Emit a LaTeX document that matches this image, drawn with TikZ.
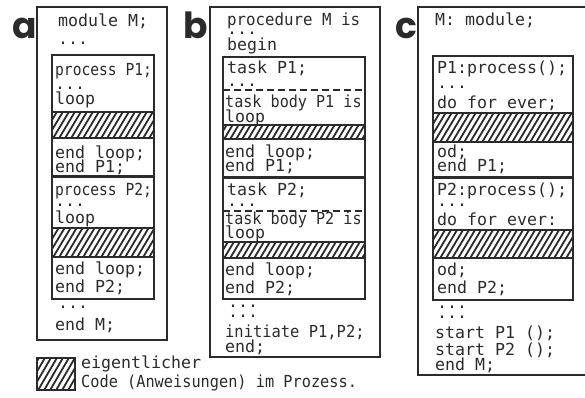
\documentclass[tikz,border=0pt]{standalone}
\usepackage{fontspec}
\newfontfamily\codefont{DejaVu Sans Mono}
\newfontfamily\labelfont{Poppins}
\definecolor{ink}{HTML}{2B2B2B}
\tikzset{
  code/.style={anchor=base west, inner sep=0pt, text=ink,
    font=\codefont\fontsize{16.6}{18}\selectfont},
  panel/.style={anchor=base west, inner sep=0pt, text=ink,
    font=\labelfont\bfseries\fontsize{36}{36}\selectfont},
  frame/.style={draw=ink, line width=1.6pt},
  sepline/.style={draw=ink, line width=1.4pt},
  thicksep/.style={draw=ink, line width=3pt},
  dashsep/.style={draw=ink, line width=1.3pt, dash pattern=on 7pt off 4pt},
  hatchline/.style={draw=ink, line width=1.8pt},
}
% one line of program text: [options]{name}{x,y}{text}
\newcommand\cl[4][]{\node[code,#1] (#2) at (#3) {#4};}
% hatched band between x1..x2 and y1..y2 (y grows downwards)
\newcommand\hatchband[4]{%
  \begin{scope}
    \clip (#1,#2) rectangle (#3,#4);
    \foreach \k in {-30,-24,...,160}
      \draw[hatchline] ({#1+\k},{#4+2}) -- ({#1+\k+0.6*(#4-#2+4)},{#2-2});
  \end{scope}
  \draw[sepline] (#1,#2) -- (#3,#2);
  \draw[sepline] (#1,#4) -- (#3,#4);
}
\begin{document}
\begin{tikzpicture}[x=1pt,y=-1pt]
\useasboundingbox (0,0) rectangle (585,397);
\clip (0,0) rectangle (585,397);

% panel letters
\node[panel] (la) at (12,38) {a};
\node[panel] (lb) at (183,38) {b};
\node[panel] (lc) at (395,38) {c};

% ---------- panel a ----------
\draw[frame] (37,7) rectangle (167,340);
\draw[frame] (52,55) rectangle (154,299);
\hatchband{52}{112}{154}{138}
\draw[thicksep] (52,176.5) -- (154,176.5);
\hatchband{52}{228}{154}{257}
\cl{a1}{58,26}{module M;}
\cl{a2}{58,44}{...}
\cl[xscale=0.88]{a3}{55,75}{process P1;}
\cl{a4}{55,89}{...}
\cl{a5}{55,104}{loop}
\cl{a6}{55,158}{end loop;}
\cl{a7}{55,172}{end P1;}
\cl[xscale=0.88]{a8}{55,195}{process P2;}
\cl{a9}{55,206}{...}
\cl{a10}{55,223}{loop}
\cl{a11}{55,274}{end loop;}
\cl{a12}{55,292}{end P2;}
\cl{a13}{58,308}{...}
\cl{a14}{55,330}{end M;}

% ---------- panel b ----------
\draw[frame] (210,7) rectangle (380,357);
\draw[frame] (223,57) rectangle (365,299);
\draw[dashsep] (223,90) -- (365,90);
\hatchband{223}{125}{365}{139}
\draw[thicksep] (223,177) -- (365,177);
\draw[dashsep] (223,211) -- (365,211);
\hatchband{223}{242}{365}{258}
\cl[xscale=0.95]{b1}{227,25}{procedure M is}
\cl{b2}{227,34}{...}
\cl{b3}{227,50}{begin}
\cl{b4}{227,73}{task P1;}
\cl{b5}{227,86}{...}
\cl[xscale=0.91]{b6}{225,107}{task body P1 is}
\cl{b7}{225,122}{loop}
\cl{b8}{225,157}{end loop;}
\cl{b9}{225,171}{end P1;}
\cl{b10}{227,195}{task P2;}
\cl{b11}{227,206}{...}
\cl[xscale=0.91]{b12}{225,224}{task body P2 is}
\cl{b13}{225,238}{loop}
\cl{b14}{225,275}{end loop;}
\cl{b15}{225,293}{end P2;}
\cl{b16}{228,307}{...}
\cl{b17}{228,317}{...}
\cl[xscale=0.93]{b18}{225,337}{initiate P1,P2;}
\cl{b19}{225,352}{end;}

% ---------- panel c ----------
\draw[frame] (418,7) rectangle (600,375);
\draw[frame] (433,56) rectangle (573,300);
\hatchband{433}{113}{573}{142}
\draw[thicksep] (433,177) -- (573,177);
\hatchband{433}{230}{573}{258}
\cl{c1}{435,25}{M: module;}
\cl{c2}{437,73}{P1:process();}
\cl{c3}{437,88}{...}
\cl{c4}{437,108}{do for ever;}
\cl{c5}{437,157}{od;}
\cl{c6}{437,171}{end P1;}
\cl{c7}{437,195}{P2:process();}
\cl{c8}{437,206}{...}
\cl{c9}{437,225}{do for ever:}
\cl{c10}{437,275}{od;}
\cl{c11}{437,293}{end P2;}
\cl{c12}{437,308}{...}
\cl{c13}{437,318}{...}
\cl{c14}{435,338}{start P1 ();}
\cl{c15}{435,355}{start P2 ();}
\cl{c16}{435,370}{end M;}

% ---------- legend ----------
\begin{scope}
  \clip (37,358) rectangle (75,390);
  \foreach \k in {-30,-24,...,40}
    \draw[hatchline] ({37+\k},392) -- ({37+\k+21},356);
\end{scope}
\draw[draw=ink, line width=1.4pt] (37,358) rectangle (75,390);
\cl{l1}{81,368}{eigentlicher}
\cl[xscale=0.92]{l2}{81,387}{Code (Anweisungen) im Prozess.}
\end{tikzpicture}
\end{document}
